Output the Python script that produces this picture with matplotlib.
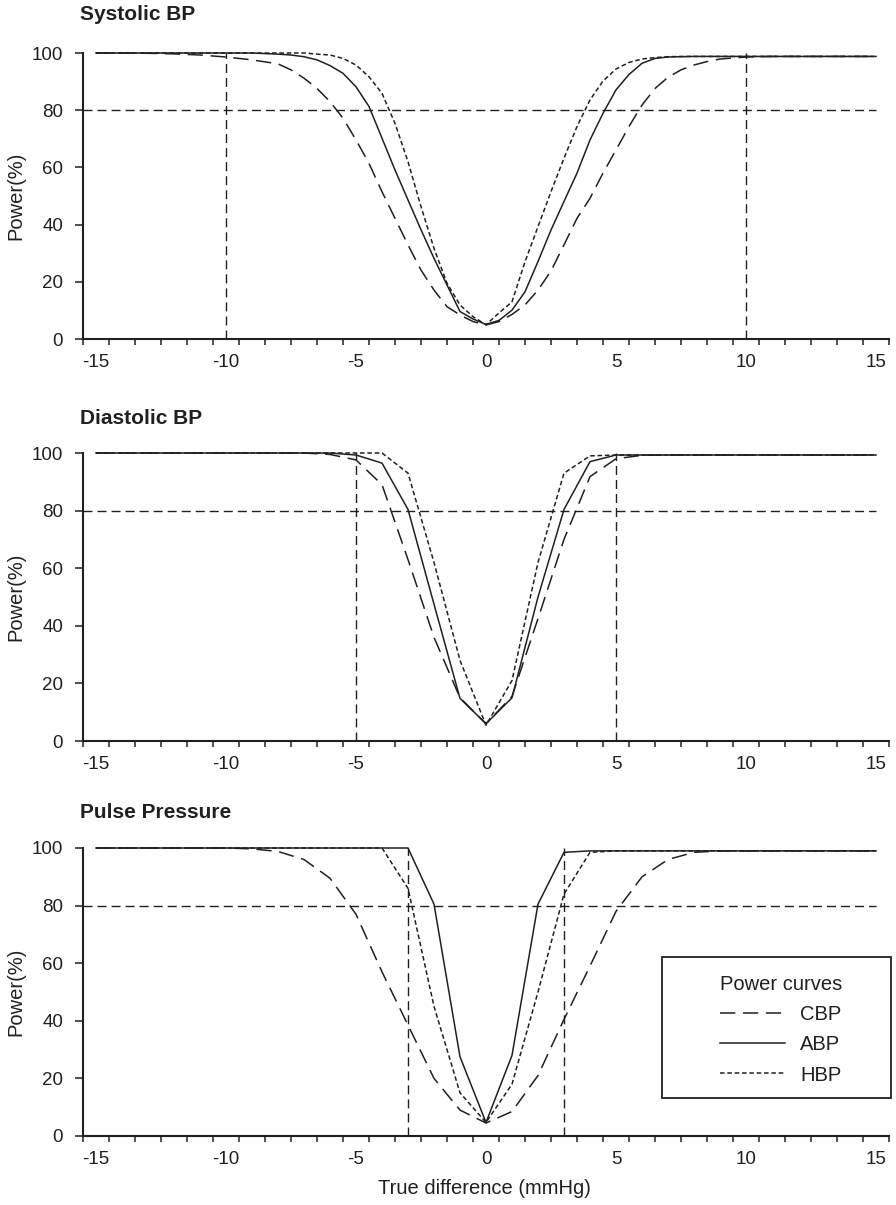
import numpy as np
import matplotlib
matplotlib.use("Agg")
import matplotlib.pyplot as plt
from matplotlib.patches import Rectangle

plt.rcParams['font.family'] = ['Liberation Sans', 'DejaVu Sans']

INK = '#231f20'

# =========================
# data
# =========================
sys_x = [-15, -14, -13, -12, -11, -10, -9, -8, -7.5, -7, -6.5, -6, -5.5, -5,
         -4.5, -4, -3.5, -3, -2.5, -2, -1.5, -1, -0.5, 0, 0.5, 1, 1.5, 2,
         2.5, 3, 3.5, 4, 4.5, 5, 5.5, 6, 6.5, 7, 7.5, 8, 8.5, 9,
         10, 11, 12, 13, 14, 15]
sys_cbp = [100, 100, 99.9, 99.7, 99.3, 98.6, 97.6, 96.2, 94.1, 91.2, 87.6, 83, 77.2, 69.6,
           61.4, 51.5, 42.2, 32.9, 24.1, 17.1, 11.3, 8.4, 6.1, 4.9, 6.1, 8.6, 11.9, 17.1,
           23.8, 32.9, 42.2, 49.2, 58, 66.1, 74.3, 81.8, 87.6, 91.5, 94.1, 95.8, 97, 97.9,
           98.6, 98.8, 98.8, 98.8, 98.8, 98.8]
sys_abp = [100, 100, 100, 100, 100, 100, 100, 99.6, 99.3, 98.7, 97.6, 95.6, 92.9, 88.2,
           81.3, 70.2, 59.1, 48.6, 38.2, 28.2, 18.9, 9.6, 7, 5.1, 6.5, 10.1, 16.5, 27.1,
           38.1, 48.1, 58, 69.6, 78.9, 87.1, 92.5, 96.4, 98.1, 98.6, 98.7, 98.8, 98.8, 98.8,
           98.8, 98.8, 98.8, 98.8, 98.8, 98.8]
sys_hbp = [100, 100, 100, 100, 100, 100, 100, 100, 100, 100, 99.6, 99.3, 98.1, 95.8,
           91.7, 85.9, 75.4, 62, 46.3, 31.7, 19.5, 11.9, 7.8, 5, 9.1, 13, 27, 39.3,
           51.5, 63.2, 74.3, 83.6, 90.2, 94.4, 96.7, 97.9, 98.4, 98.7, 98.8, 98.8, 98.8, 98.8,
           98.8, 98.8, 98.8, 98.8, 98.8, 98.8]
sys_limits = [-10, 10]

dia_x = list(range(-15, 16))
dia_cbp = [100, 100, 100, 100, 100, 100, 100, 100, 100, 99.5, 97.6, 89, 63, 36, 15,
           6, 15.5, 42.5, 70, 91.8, 98, 99.2, 99.3, 99.3, 99.3, 99.3, 99.3, 99.3, 99.3, 99.3, 99.3]
dia_abp = [100, 100, 100, 100, 100, 100, 100, 100, 100, 100, 99.3, 96.5, 80.4, 47.5, 14.8,
           6, 15, 50, 80.4, 97, 99.3, 99.3, 99.3, 99.3, 99.3, 99.3, 99.3, 99.3, 99.3, 99.3, 99.3]
dia_hbp = [100, 100, 100, 100, 100, 100, 100, 100, 100, 100, 100, 100, 93, 62, 28,
           5.5, 21, 62, 93, 99, 99.3, 99.3, 99.3, 99.3, 99.3, 99.3, 99.3, 99.3, 99.3, 99.3, 99.3]
dia_limits = [-5, 5]

pp_x = list(range(-15, 16))
pp_cbp = [100, 100, 100, 100, 100, 100, 99.7, 98.8, 96, 89.5, 77, 57, 38.5, 20, 9,
          4.5, 8.5, 21, 40.5, 59, 78, 90, 96, 98.5, 99, 99, 99, 99, 99, 99, 99]
pp_abp = [100, 100, 100, 100, 100, 100, 100, 100, 100, 100, 100, 100, 100, 80.5, 27.5,
          4.7, 28, 80.5, 98.5, 99, 99, 99, 99, 99, 99, 99, 99, 99, 99, 99, 99]
pp_hbp = [100, 100, 100, 100, 100, 100, 100, 100, 100, 100, 100, 100, 86, 45, 15,
          4.7, 18, 50, 84, 98.5, 99, 99, 99, 99, 99, 99, 99, 99, 99, 99, 99]
pp_limits = [-3, 3]

target_power = 80
series_names = ['CBP', 'ABP', 'HBP']
x_labels = [-15, -10, -5, 0, 5, 10, 15]
y_ticks = [0, 20, 40, 60, 80, 100]

# =========================
# figure
# =========================
W, H = 896, 1205
fig = plt.figure(figsize=(W / 100, H / 100), dpi=100)

panels = [
    ('Systolic BP', sys_x, sys_cbp, sys_abp, sys_hbp, sys_limits, 53, 339, 15),
    ('Diastolic BP', dia_x, dia_cbp, dia_abp, dia_hbp, dia_limits, 453, 741, 418),
    ('Pulse Pressure', pp_x, pp_cbp, pp_abp, pp_hbp, pp_limits, 848, 1136, 813),
]

styles = [
    dict(dashes=(10, 5)),
    dict(linestyle='-'),
    dict(dashes=(3, 1.8)),
]

FS = 13.5
FS_LAB = 14.5

for title, x, cbp, abp, hbp, limits, top_px, bot_px, title_px in panels:

    ax = fig.add_axes([83 / W, 1 - bot_px / H, 806 / W, (bot_px - top_px) / H])

    for name, vals, st in zip(series_names, [cbp, abp, hbp], styles):
        ax.plot(x, vals, color=INK, lw=1.1, label=name, clip_on=False, **st)

    # reference lines
    ax.plot([-15.5, 15], [target_power, target_power],
            color=INK, lw=1.0, dashes=(6.5, 3.6))
    for v in limits:
        ax.plot([v, v], [0, 100], color=INK, lw=1.0, dashes=(6.5, 3.6))

    ax.set_xlim(-15.5, 15.5)
    ax.set_ylim(0, 100)

    for s in ['top', 'right']:
        ax.spines[s].set_visible(False)
    for s in ['left', 'bottom']:
        ax.spines[s].set_linewidth(1.5)
        ax.spines[s].set_color(INK)

    # category style x axis: marks between integers, labels on them
    ax.set_xticks(np.arange(-15.5, 15.6, 1))
    ax.set_xticklabels([])
    ax.set_xticks(x_labels, minor=True)
    ax.set_xticklabels([str(v) for v in x_labels], minor=True)
    ax.tick_params(axis='x', which='major', length=4, width=1.1,
                   color=INK, direction='out')
    ax.tick_params(axis='x', which='minor', length=0, pad=10.5,
                   labelsize=FS, labelcolor=INK)

    ax.set_yticks(y_ticks)
    ax.tick_params(axis='y', length=5.8, width=1.1, color=INK, pad=8.5,
                   labelsize=FS, labelcolor=INK)

    ax.set_ylabel('Power(%)', fontsize=FS_LAB, color=INK)
    ax.yaxis.set_label_coords(-0.071, 0.5)

    fig.text(80 / W, 1 - title_px / H, title, fontsize=15,
             fontweight='bold', color=INK, ha='left', va='center')

# legend in the last panel
ax.add_patch(Rectangle((0.718, 0.132), 0.2845, 0.4895, transform=ax.transAxes,
                       fill=False, edgecolor=INK, lw=1.3, clip_on=False))
leg = ax.legend(loc='upper left', bbox_to_anchor=(0.79, 0.558),
                frameon=False, title='Power curves', fontsize=FS_LAB,
                title_fontsize=FS_LAB, handlelength=3.2, handletextpad=0.75,
                labelspacing=0.55, borderaxespad=0, borderpad=0)
leg.get_title().set_color(INK)
for t in leg.get_texts():
    t.set_color(INK)

fig.text(484 / W, 1 - 1188 / H, 'True difference (mmHg)', fontsize=FS_LAB,
         color=INK, ha='center', va='center')

plt.savefig('out.png', dpi=100)
plt.close()
